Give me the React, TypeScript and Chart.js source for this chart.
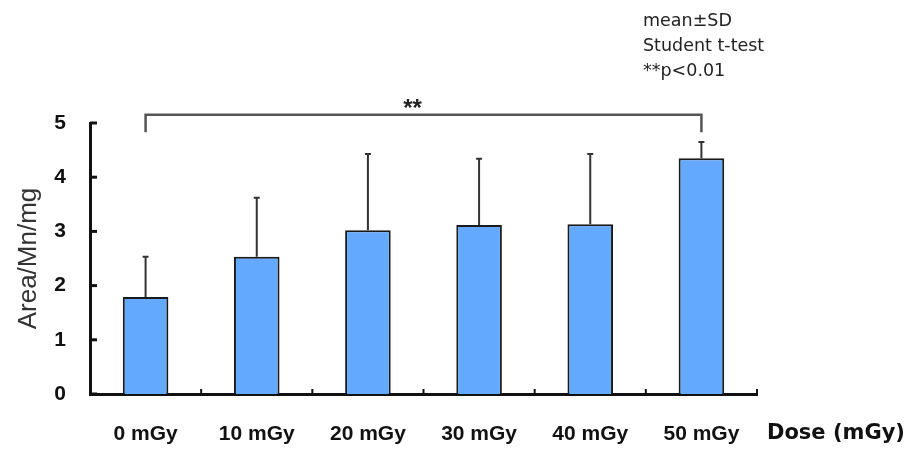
import React, { useEffect, useRef } from "react";
import { Chart, registerables } from "chart.js";

Chart.register(...registerables);

const categories = ["0 mGy", "10 mGy", "20 mGy", "30 mGy", "40 mGy", "50 mGy"];
const means = [1.79, 2.53, 3.02, 3.12, 3.13, 4.35];
const sds = [0.74, 1.09, 1.41, 1.22, 1.30, 0.30];
const yTicks = [0, 1, 2, 3, 4, 5];
const bracketFrom = 0;
const bracketTo = 5;
const bracketLevel = 5.15;
const bracketEnd = 4.83;
const sigLabel = "**";
const notes = ["mean±SD", "Student t-test", "**p<0.01"];
const xTitle = "Dose (mGy)";
const yTitle = "Area/Mn/mg";

const overlay = {
  id: "overlay",
  afterDatasetsDraw(chart: any) {
    const { ctx, scales, chartArea } = chart;
    const x = scales.x;
    const y = scales.y;
    ctx.save();
    // error bars
    ctx.strokeStyle = "#333";
    ctx.lineWidth = 2;
    means.forEach((m, i) => {
      const px = x.getPixelForValue(i);
      const top = y.getPixelForValue(m + sds[i]);
      const base = y.getPixelForValue(m);
      ctx.beginPath();
      ctx.moveTo(px, base);
      ctx.lineTo(px, top);
      ctx.moveTo(px - 3, top);
      ctx.lineTo(px + 3, top);
      ctx.stroke();
    });
    // y ticks inside
    ctx.strokeStyle = "#111";
    ctx.lineWidth = 3;
    yTicks.forEach((t) => {
      const py = y.getPixelForValue(t);
      ctx.beginPath();
      ctx.moveTo(chartArea.left, py);
      ctx.lineTo(chartArea.left + 7, py);
      ctx.stroke();
    });
    // x ticks at category boundaries
    ctx.lineWidth = 2;
    for (let i = 1; i <= categories.length; i++) {
      const px = (x.getPixelForValue(i - 1) + x.getPixelForValue(Math.min(i, categories.length - 1))) / 2;
      const bx = i === categories.length ? chartArea.right : px;
      ctx.beginPath();
      ctx.moveTo(bx, chartArea.bottom);
      ctx.lineTo(bx, chartArea.bottom - 5);
      ctx.stroke();
    }
    // bracket
    const x0 = x.getPixelForValue(bracketFrom);
    const x1 = x.getPixelForValue(bracketTo);
    const yl = y.getPixelForValue(bracketLevel);
    const ye = y.getPixelForValue(bracketEnd);
    ctx.strokeStyle = "#555";
    ctx.lineWidth = 2.5;
    ctx.beginPath();
    ctx.moveTo(x0, ye);
    ctx.lineTo(x0, yl);
    ctx.lineTo(x1, yl);
    ctx.lineTo(x1, ye);
    ctx.stroke();
    ctx.fillStyle = "#222";
    ctx.font = "bold 24px 'Liberation Sans', Arial, sans-serif";
    ctx.textAlign = "center";
    ctx.textBaseline = "middle";
    ctx.fillText(sigLabel, (x0 + x1) / 2 - 11, yl - 5);
    // notes
    ctx.font = "17.5px 'DejaVu Sans', sans-serif";
    ctx.textAlign = "left";
    ctx.textBaseline = "middle";
    notes.forEach((n, i) => ctx.fillText(n, 643, 21 + i * 25));
    // x title
    ctx.font = "bold 21px 'DejaVu Sans', sans-serif";
    ctx.fillStyle = "#111";
    ctx.fillText(xTitle, 767, 434);
    ctx.restore();
  },
};

export default function App() {
  const ref = useRef<HTMLCanvasElement | null>(null);
  useEffect(() => {
    const chart = new Chart(ref.current as HTMLCanvasElement, {
      type: "bar",
      data: {
        labels: categories,
        datasets: [
          {
            data: means,
            backgroundColor: "#63A9FD",
            borderColor: "#1a1a1a",
            borderWidth: 2,
            borderSkipped: "bottom",
            barPercentage: 0.41,
            categoryPercentage: 1,
          },
        ],
      },
      options: {
        responsive: false,
        animation: false,
        layout: { padding: { top: 123, right: 151, left: 0, bottom: 0 } },
        plugins: { legend: { display: false }, tooltip: { enabled: false } },
        scales: {
          x: {
            grid: { display: false, drawTicks: false },
            border: { display: true, color: "#111", width: 3 },
            ticks: {
              padding: 28,
              color: "#111",
              font: { family: "'Liberation Sans', Arial, sans-serif", size: 21, weight: "bold" },
            },
            afterFit: (s: any) => {
              s.height = 56;
            },
          },
          y: {
            min: 0,
            max: 5,
            grid: { display: false, drawTicks: false },
            border: { display: true, color: "#111", width: 3 },
            ticks: {
              stepSize: 1,
              padding: 24,
              color: "#111",
              font: { family: "'Liberation Sans', Arial, sans-serif", size: 21, weight: "bold" },
            },
            title: {
              display: true,
              text: yTitle,
              color: "#333",
              padding: { top: 13, bottom: 0 },
              font: { family: "'Liberation Sans', Arial, sans-serif", size: 26 },
            },
            afterFit: (s: any) => {
              s.width = 90;
            },
          },
        },
      },
      plugins: [overlay],
    });
    return () => chart.destroy();
  }, []);
  return (
    <div style={{ position: "fixed", left: 0, top: 0, width: 908, height: 450, background: "#fff" }}>
      <canvas ref={ref} width={908} height={450} />
    </div>
  );
}
